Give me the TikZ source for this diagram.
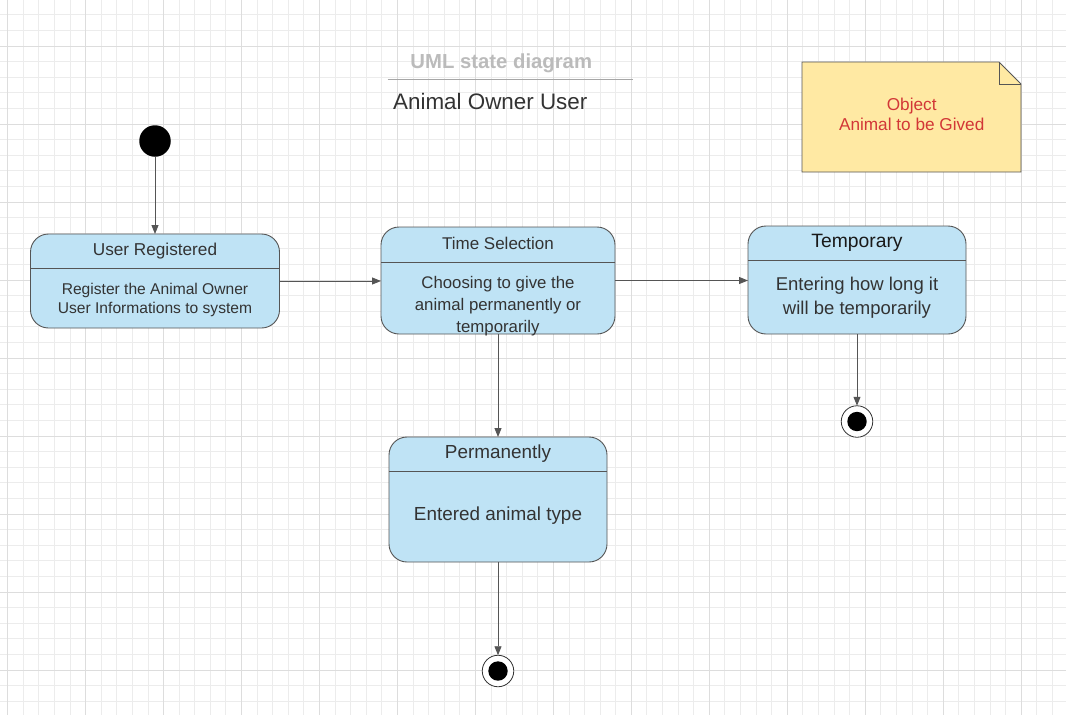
\documentclass[tikz,border=0pt]{standalone}
\usepackage{fontspec}
\setmainfont{Liberation Sans}
\usetikzlibrary{arrows.meta}
\definecolor{gridminor}{RGB}{236,236,236}
\definecolor{gridmajor}{RGB}{221,221,221}
\definecolor{statefill}{RGB}{191,227,245}
\definecolor{stateline}{RGB}{85,85,85}
\definecolor{txt}{RGB}{51,51,51}
\definecolor{notefill}{RGB}{255,233,163}
\definecolor{notetext}{RGB}{210,55,55}
\definecolor{titlegray}{RGB}{187,187,187}
\begin{document}
\begin{tikzpicture}[x=1pt,y=-1pt,
  state/.style={draw=stateline, fill=statefill, line width=0.9pt, rounded corners=18pt, inner sep=0pt, outer sep=0pt},
  divider/.style={draw=stateline, line width=0.9pt},
  lbl/.style={anchor=base, inner sep=0pt, text=txt, align=center},
  arr/.style={draw=stateline, line width=0.9pt, -{Triangle[length=9pt,width=7pt]}},
  endout/.style={circle, draw=txt, fill=white, line width=0.8pt, minimum size=31.5pt, inner sep=0pt, outer sep=0pt},
  initst/.style={circle, fill=black, minimum size=31.5pt, inner sep=0pt, outer sep=0pt}]
\useasboundingbox (0,0) rectangle (1066,715);
\fill[white] (0,0) rectangle (1066,715);
% grid
\foreach \k in {0,...,67} \draw[gridminor, line width=1pt] ({7.7+15.592*\k},0) -- ({7.7+15.592*\k},715);
\foreach \k in {0,...,44} \draw[gridminor, line width=1pt] (0,{14.8+15.6*\k}) -- (1066,{14.8+15.6*\k});
\foreach \k in {0,...,13} \draw[gridmajor, line width=1pt] ({7.7+77.96*\k},0) -- ({7.7+77.96*\k},715);
\foreach \k in {0,...,8} \draw[gridmajor, line width=1pt] (0,{46+78*\k}) -- (1066,{46+78*\k});

% title
\node[lbl, text=titlegray, font=\fontsize{20.3}{24}\selectfont\bfseries] (title) at (501.3,68.3) {UML state diagram};
\coordinate (tl1) at (387.5,79.3);
\coordinate (tl2) at (633.3,79.3);
\draw[color=gray!70, line width=1.4pt] (tl1) -- (tl2);
\node[lbl, font=\fontsize{22.4}{26}\selectfont] (subtitle) at (490.3,109.2) {Animal Owner User};

% note
\node[minimum width=219pt, minimum height=110pt, inner sep=0pt, outer sep=0pt] (note) at (911.5,117) {};
\draw[draw=stateline, fill=notefill, line width=0.9pt]
  (note.north west) -- ([xshift=-22pt]note.north east) -- ([yshift=-22pt]note.north east) -- (note.south east) -- (note.south west) -- cycle;
\draw[draw=stateline, line width=0.9pt] ([xshift=-22pt]note.north east) -- ([xshift=-22pt,yshift=-22pt]note.north east) -- ([yshift=-22pt]note.north east);
\node[lbl, text=notetext, font=\fontsize{17.2}{20}\selectfont] (n1) at (911.7,110) {Object};
\node[lbl, text=notetext, font=\fontsize{17.2}{20}\selectfont] (n2) at (911.7,130) {Animal to be Gived};

% initial state
\node[initst] (init) at (155,141) {};

% User Registered
\node[state, minimum width=249pt, minimum height=94pt] (ur) at (155,281) {};
\draw[divider] (ur.west |- 0,268.5) -- (ur.east |- 0,268.5);
\node[lbl, font=\fontsize{17.2}{20}\selectfont] (urt) at (155,255) {User Registered};
\node[lbl, font=\fontsize{15.6}{18}\selectfont] (urb1) at (155,294) {Register the Animal Owner};
\node[lbl, font=\fontsize{15.6}{18}\selectfont] (urb2) at (155,313.2) {User Informations to system};

% Time Selection
\node[state, minimum width=234pt, minimum height=107pt] (ts) at (498,280.5) {};
\draw[divider] (ts.west |- 0,262) -- (ts.east |- 0,262);
\node[lbl, font=\fontsize{17}{20}\selectfont] (tst) at (498,249.3) {Time Selection};
\node[lbl, font=\fontsize{16.8}{20}\selectfont] (tsb1) at (498,288.3) {Choosing to give the};
\node[lbl, font=\fontsize{16.8}{20}\selectfont] (tsb2) at (498,310.5) {animal permanently or};
\node[lbl, font=\fontsize{16.8}{20}\selectfont] (tsb3) at (498,332.2) {temporarily};

% Temporary
\node[state, minimum width=218pt, minimum height=108pt] (temp) at (857,280) {};
\draw[divider] (temp.west |- 0,260) -- (temp.east |- 0,260);
\node[lbl, text=black!90, font=\fontsize{19.3}{22}\selectfont] (tempt) at (857,247.3) {Temporary};
\node[lbl, font=\fontsize{18.5}{22}\selectfont] (tempb1) at (857,290) {Entering how long it};
\node[lbl, font=\fontsize{18.5}{22}\selectfont] (tempb2) at (857,314) {will be temporarily};

% Permanently
\node[state, minimum width=218pt, minimum height=125pt] (perm) at (498,499.5) {};
\draw[divider] (perm.west |- 0,471.5) -- (perm.east |- 0,471.5);
\node[lbl, font=\fontsize{18.9}{22}\selectfont] (permt) at (498,458.3) {Permanently};
\node[lbl, font=\fontsize{18.9}{22}\selectfont] (permb) at (498,520) {Entered animal type};

% final states
\node[endout] (end1) at (857,421.5) {};
\fill[black] (end1.center) circle (9.7);
\node[endout] (end2) at (498,671) {};
\fill[black] (end2.center) circle (9.7);

% transitions
\draw[arr] (init) -- (ur);
\draw[arr] (ur.east) -- (ur.east -| ts.west);
\draw[arr] (ts.east) -- (ts.east -| temp.west);
\draw[arr] (temp.south) -- (end1.north);
\draw[arr] (ts.south) -- (perm.north);
\draw[arr] (perm.south) -- (end2.north);
\end{tikzpicture}
\end{document}
